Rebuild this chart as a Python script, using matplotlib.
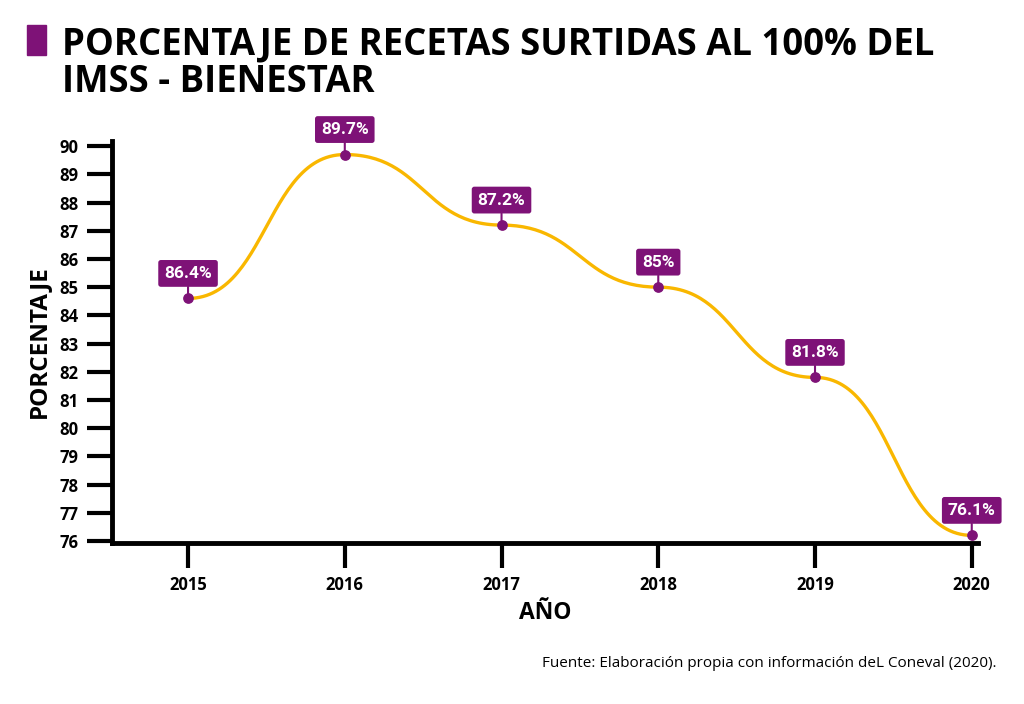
import numpy as np
import matplotlib
matplotlib.use('Agg')
import matplotlib.pyplot as plt
from matplotlib.patches import Rectangle

# datos
anios = [2015, 2016, 2017, 2018, 2019, 2020]
valores = [84.6, 89.7, 87.2, 85.0, 81.8, 76.2]
etiquetas = ['86.4%', '89.7%', '87.2%', '85%', '81.8%', '76.1%']
yticks = list(range(76, 91))

morado = '#7E1277'
amarillo = '#F9B700'

plt.rcParams['font.family'] = ['Open Sans', 'DejaVu Sans']

fig = plt.figure(figsize=(10.24, 7.04), dpi=100)
ax = fig.add_axes([0.1094, 0.2287, 0.8457, 0.571])

# curva suave tipo "bump": bezier con controles horizontales entre puntos
xs, ys = [], []
t = np.linspace(0, 1, 60)
for i in range(len(anios) - 1):
    x0, x1 = anios[i], anios[i + 1]
    y0, y1 = valores[i], valores[i + 1]
    xm = (x0 + x1) / 2
    bx = (1 - t)**3 * x0 + 3 * (1 - t)**2 * t * xm + 3 * (1 - t) * t**2 * xm + t**3 * x1
    by = (1 - t)**3 * y0 + 3 * (1 - t)**2 * t * y0 + 3 * (1 - t) * t**2 * y1 + t**3 * y1
    xs.extend(bx)
    ys.extend(by)
ax.plot(xs, ys, color=amarillo, lw=2.4, solid_capstyle='round', zorder=2)
ax.scatter(anios, valores, s=45, color=morado, zorder=3)

# etiquetas moradas con su "palito"
for x, y, txt in zip(anios, valores, etiquetas):
    ax.annotate(txt, (x, y), xytext=(0, 25), textcoords='offset pixels',
                ha='center', va='center', color='white', fontsize=12.5,
                fontweight='semibold', family=['Roboto', 'DejaVu Sans'],
                bbox=dict(boxstyle='round,pad=0.34,rounding_size=0.15',
                          fc=morado, ec='none'),
                arrowprops=dict(arrowstyle='-', color=morado, lw=1.5,
                                shrinkA=0, shrinkB=0), zorder=4)

ax.set_xlim(2014.515, 2020.04)
ax.set_ylim(75.93, 90.18)
ax.set_xticks(anios)
ax.set_yticks(yticks)
ax.tick_params(axis='both', length=18, width=3, color='black', pad=6,
               labelsize=12)
ax.tick_params(axis='x', pad=6)
for lab in ax.get_xticklabels() + ax.get_yticklabels():
    lab.set_fontweight('bold')
for s in ['top', 'right']:
    ax.spines[s].set_visible(False)
for s in ['left', 'bottom']:
    ax.spines[s].set_linewidth(3.5)

ax.set_ylabel('PORCENTAJE', fontsize=17.5, fontweight='bold', labelpad=6)
ax.set_xlabel('AÑO', fontsize=16.5, fontweight='bold', labelpad=5)

# titulo
fig.patches.append(Rectangle((27 / 1024, 1 - 55 / 704), 19 / 1024, 30 / 704,
                             transform=fig.transFigure, color=morado))
fig.text(62 / 1024, 1 - 54 / 704, 'PORCENTAJE DE RECETAS SURTIDAS AL 100% DEL',
         fontsize=26.3, fontweight='bold', va='baseline', ha='left')
fig.text(62 / 1024, 1 - 92 / 704, 'IMSS - BIENESTAR',
         fontsize=26.3, fontweight='bold', va='baseline', ha='left')

fig.text(997 / 1024, 1 - 667 / 704,
         'Fuente: Elaboración propia con información deL Coneval (2020).',
         fontsize=11, ha='right', va='baseline')

fig.savefig('out.png', dpi=100, facecolor='white')
